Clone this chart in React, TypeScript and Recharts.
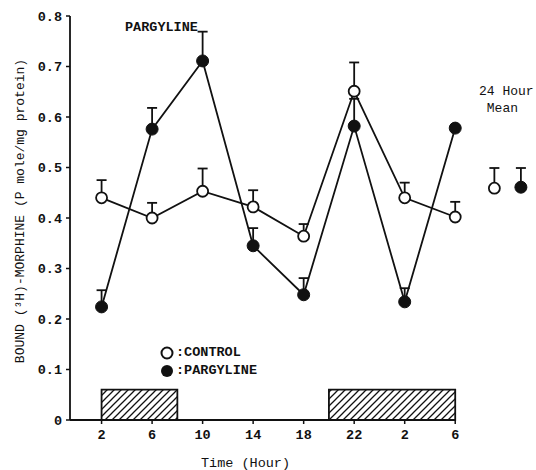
import {
  ComposedChart,
  Line,
  Scatter,
  XAxis,
  YAxis,
  ErrorBar,
  ReferenceArea,
  ReferenceLine,
} from 'recharts';

// sampling times (hours along the 24h cycle, second day continues past 24)
const times = [2, 6, 10, 14, 18, 22, 26, 30];
const timeLabels = ['2', '6', '10', '14', '18', '22', '2', '6'];

const controlValues = [0.44, 0.4, 0.453, 0.422, 0.364, 0.651, 0.44, 0.402];
const controlErrors = [0.035, 0.03, 0.045, 0.033, 0.024, 0.057, 0.03, 0.03];

const pargylineValues = [0.224, 0.576, 0.711, 0.345, 0.248, 0.582, 0.234, 0.578];
const pargylineErrors = [0.033, 0.042, 0.058, 0.035, 0.033, 0.054, 0.027, 0];

// 24 hour means
const meanControl = { t: 33.1, v: 0.459, err: 0.04 };
const meanPargyline = { t: 35.2, v: 0.461, err: 0.038 };

// dark periods (hatched bars)
const darkPeriods = [
  { from: 2, to: 8 },
  { from: 20, to: 30 },
];

const yTicks = [0, 0.1, 0.2, 0.3, 0.4, 0.5, 0.6, 0.7, 0.8];

const data = times.map((t, i) => ({
  t,
  control: controlValues[i],
  controlErr: [0, controlErrors[i]],
  pargyline: pargylineValues[i],
  pargylineErr: [0, pargylineErrors[i]],
}));

const FONT = '"Liberation Mono", "DejaVu Sans Mono", monospace';
const INK = '#111';

const OpenDot = (props: any) => {
  const { cx, cy } = props;
  if (cx == null || cy == null) return null;
  return <circle cx={cx} cy={cy} r={5.5} fill="#fff" stroke={INK} strokeWidth={1.8} />;
};

const FilledDot = (props: any) => {
  const { cx, cy } = props;
  if (cx == null || cy == null) return null;
  return <circle cx={cx} cy={cy} r={6} fill={INK} stroke={INK} strokeWidth={1} />;
};

export default function App() {
  return (
    <div style={{ position: 'relative', width: 536, height: 470, background: '#fff' }}>
      <style>{`body { margin: 0; }`}</style>
      <ComposedChart
        width={536}
        height={470}
        data={data}
        margin={{ top: 16, right: 5, bottom: 10, left: 0 }}
        style={{ fontFamily: FONT }}
      >
        <defs>
          <pattern id="hatch" patternUnits="userSpaceOnUse" width={7} height={7}>
            <path d="M-1,1 l2,-2 M0,7 l7,-7 M6,8 l2,-2" stroke={INK} strokeWidth={1.3} />
          </pattern>
        </defs>
        <XAxis
          type="number"
          dataKey="t"
          domain={[-0.5, 36]}
          ticks={times}
          tickFormatter={(v) => timeLabels[times.indexOf(v)] ?? ''}
          axisLine={false}
          tickLine={{ stroke: INK, strokeWidth: 1.5 }}
          tickSize={4}
          tickMargin={5}
          height={40}
          tick={{ fill: INK, fontSize: 13.5, fontFamily: FONT, fontWeight: 'bold' }}
          label={{
            value: 'Time (Hour)',
            position: 'insideBottom',
            offset: -7,
            dx: -55,
            fill: INK,
            fontSize: 13.5,
            fontFamily: FONT,
          }}
        />
        <YAxis
          type="number"
          domain={[0, 0.8]}
          ticks={yTicks}
          tickFormatter={(v) => (v === 0 ? '0' : v.toFixed(1))}
          width={70}
          axisLine={{ stroke: INK, strokeWidth: 1.8 }}
          tickLine={{ stroke: INK, strokeWidth: 1.5 }}
          tickSize={4}
          tickMargin={4}
          tick={{ fill: INK, fontSize: 13.5, fontFamily: FONT, fontWeight: 'bold' }}
          label={{
            value: 'BOUND (\u00B3H)-MORPHINE (P mole/mg protein)',
            angle: -90,
            position: 'insideLeft',
            offset: 19,
            dy: -7,
            fill: INK,
            fontSize: 13,
            fontFamily: FONT,
            style: { textAnchor: 'middle' },
          }}
        />
        {darkPeriods.map((p) => (
          <ReferenceArea
            key={p.from}
            x1={p.from}
            x2={p.to}
            y1={0}
            y2={0.06}
            fill="url(#hatch)"
            fillOpacity={1}
            stroke={INK}
            strokeWidth={1.8}
          />
        ))}
        <ReferenceLine
          segment={[
            { x: -0.5, y: 0 },
            { x: 30, y: 0 },
          ]}
          stroke={INK}
          strokeWidth={1.8}
        />
        <Line
          dataKey="control"
          stroke={INK}
          strokeWidth={1.8}
          dot={<OpenDot />}
          activeDot={false}
          isAnimationActive={false}
        >
          <ErrorBar dataKey="controlErr" direction="y" width={5} stroke={INK} strokeWidth={1.8} />
        </Line>
        <Line
          dataKey="pargyline"
          stroke={INK}
          strokeWidth={1.8}
          dot={<FilledDot />}
          activeDot={false}
          isAnimationActive={false}
        >
          <ErrorBar dataKey="pargylineErr" direction="y" width={5} stroke={INK} strokeWidth={1.8} />
        </Line>
        <Scatter
          data={[{ t: meanControl.t, v: meanControl.v, e: [0, meanControl.err] }]}
          dataKey="v"
          shape={<OpenDot />}
          isAnimationActive={false}
        >
          <ErrorBar dataKey="e" direction="y" width={5} stroke={INK} strokeWidth={1.8} />
        </Scatter>
        <Scatter
          data={[{ t: meanPargyline.t, v: meanPargyline.v, e: [0, meanPargyline.err] }]}
          dataKey="v"
          shape={<FilledDot />}
          isAnimationActive={false}
        >
          <ErrorBar dataKey="e" direction="y" width={5} stroke={INK} strokeWidth={1.8} />
        </Scatter>
      </ComposedChart>
      {/* legend */}
      <div
        style={{
          position: 'absolute',
          left: 160,
          top: 344,
          fontFamily: FONT,
          fontSize: 13.5,
          fontWeight: 'bold',
          color: INK,
          lineHeight: '18px',
        }}
      >
        <div style={{ display: 'flex', alignItems: 'center' }}>
          <svg width={14} height={14}>
            <circle cx={7} cy={7} r={5.5} fill="#fff" stroke={INK} strokeWidth={2} />
          </svg>
          <span style={{ marginLeft: 2 }}>:CONTROL</span>
        </div>
        <div style={{ display: 'flex', alignItems: 'center' }}>
          <svg width={14} height={14}>
            <circle cx={7} cy={7} r={6} fill={INK} />
          </svg>
          <span style={{ marginLeft: 2 }}>:PARGYLINE</span>
        </div>
      </div>
      <div
        style={{
          position: 'absolute',
          left: 125,
          top: 20,
          fontFamily: FONT,
          fontWeight: 'bold',
          fontSize: 13.5,
          color: INK,
        }}
      >
        PARGYLINE
      </div>
      <div
        style={{
          position: 'absolute',
          left: 479,
          top: 83,
          fontFamily: FONT,
          fontSize: 13,
          color: INK,
          lineHeight: '17px',
          whiteSpace: 'pre',
        }}
      >
        {'24 Hour\n Mean'}
      </div>
    </div>
  );
}
